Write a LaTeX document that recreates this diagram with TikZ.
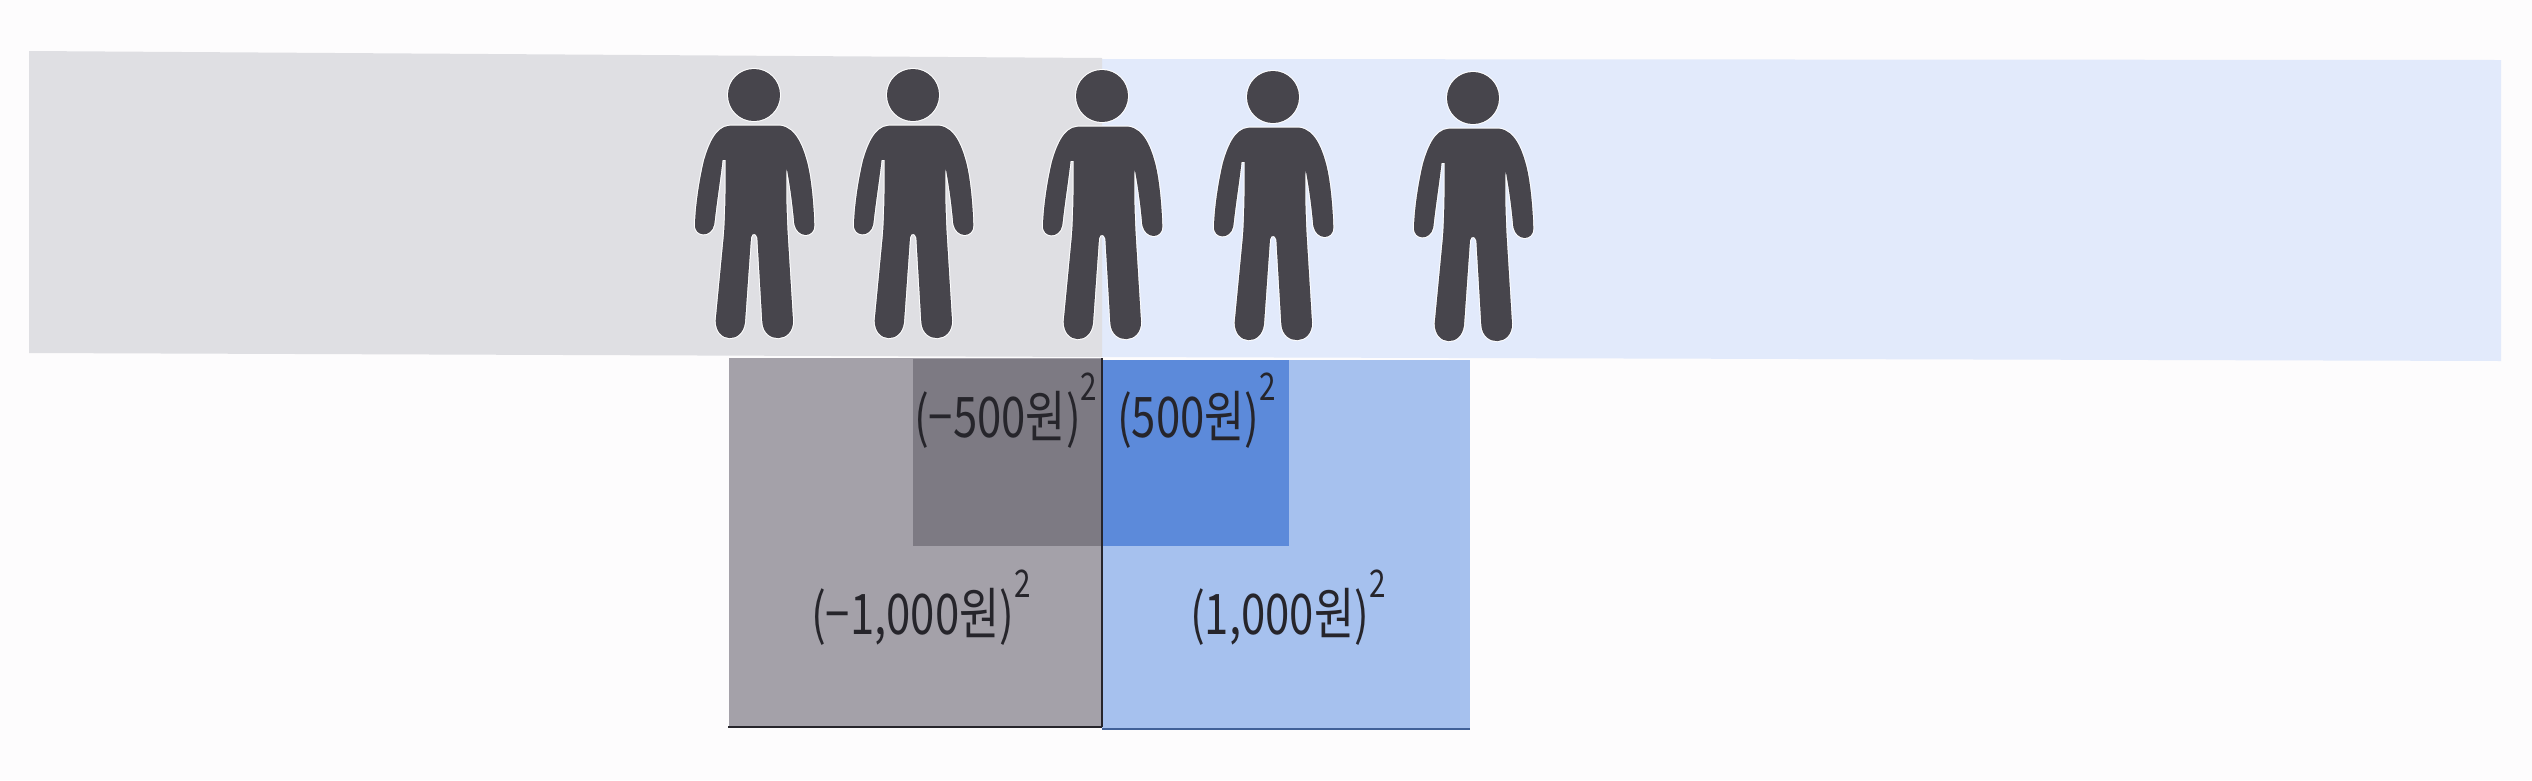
\documentclass[tikz,border=0pt]{standalone}
\usepackage{fontspec}
\setmainfont[FakeStretch=0.78]{Noto Sans CJK KR}
\definecolor{paper}{HTML}{FDFCFD}
\definecolor{bandgray}{HTML}{DFDFE3}
\definecolor{bandblue}{HTML}{E2EAFB}
\definecolor{outgray}{HTML}{A4A1A9}
\definecolor{ingray}{HTML}{7D7A83}
\definecolor{outblue}{HTML}{A6C1EE}
\definecolor{inblue}{HTML}{5C8ADA}
\definecolor{figure}{HTML}{47454C}
\definecolor{ink}{HTML}{26252B}
\newcommand{\psq}[1]{\raisebox{0.66em}{\fontsize{38}{38}\selectfont #1}}
\newcommand{\personat}[2]{%
  \begin{scope}[shift={(#1,#2)},x=0.3333pt,y=-0.3333pt]
    \path[figure shape] (0,78) circle[x radius=75,y radius=75];
    \path[figure shape] (-72,173) -- (78,173)
      .. controls (125,178) and (145,240) .. (155,275)
      .. controls (168,320) and (176,400) .. (178,470)
      .. controls (178,503) and (133,505) .. (124,465)
      .. controls (118,400) and (110,340) .. (96,270)
      .. controls (92,340) and (94,420) .. (98,495)
      -- (114,755)
      .. controls (116,818) and (33,822) .. (28,760)
      -- (13,505) .. controls (10,487) and (-10,487) .. (-12,505)
      -- (-30,760)
      .. controls (-38,822) and (-112,818) .. (-112,755)
      -- (-87,495)
      .. controls (-82,420) and (-82,340) .. (-82,270)
      -- (-97,270)
      .. controls (-105,340) and (-115,400) .. (-122,465)
      .. controls (-130,505) and (-178,500) .. (-174,465)
      .. controls (-172,400) and (-158,320) .. (-147,275)
      .. controls (-135,235) and (-115,175) .. (-72,173) -- cycle;
  \end{scope}}
\tikzset{
  figure shape/.style={preaction={draw=white,line width=4pt,line join=round},
    fill=figure,draw=figure,line width=2pt,line join=round},
  sqlabel/.style={anchor=base west,inner sep=0pt,text=ink,font=\fontsize{56}{56}\selectfont}
}
\begin{document}
\begin{tikzpicture}[x=1pt,y=-1pt]
\useasboundingbox (0,0) rectangle (2532,780);
\fill[paper] (0,0) rectangle (2532,780);
% bands
\fill[bandblue] (1102,59) -- (2501,60) -- (2501,361) -- (1102,357) -- cycle;
\fill[bandgray] (29,51) -- (1102,58) -- (1102,357) -- (29,353) -- cycle;
% squares
\fill[outgray] (729,358) rectangle (1102,727);
\fill[outblue] (1102,360) rectangle (1470,729);
\fill[ingray] (913,359) rectangle (1102,546);
\fill[inblue] (1102,360) rectangle (1289,546);
\draw[ink,line width=1.5pt] (1102,358) -- (1102,727);
\draw[ink,line width=2pt] (728,727) -- (1102,727);
\draw[inblue!70!black,line width=2pt] (1102,729) -- (1470,729);
% people
\personat{754}{69}
\personat{913}{69}
\personat{1102}{70}
\personat{1273}{71}
\personat{1473}{72}
% labels
\node[sqlabel] (a) at (914,437) {(−500원)\psq{2}};
\node[sqlabel] (b) at (1117,437) {(500원)\psq{2}};
\node[sqlabel] (c) at (811,634) {(−1,000원)\psq{2}};
\node[sqlabel] (d) at (1190,634) {(1,000원)\psq{2}};
\end{tikzpicture}
\end{document}
